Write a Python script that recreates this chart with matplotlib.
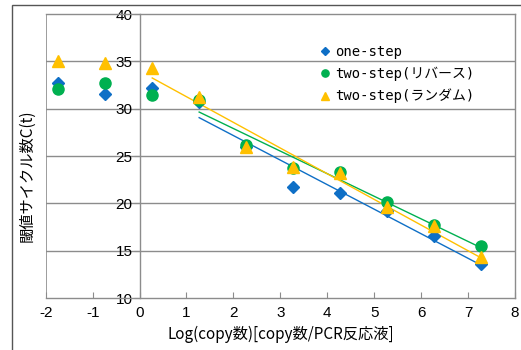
import matplotlib
matplotlib.use("Agg")
import matplotlib.pyplot as plt
from matplotlib.patches import Rectangle
import numpy as np

plt.rcParams["axes.unicode_minus"] = False

x_vals = [-1.73, -0.73, 0.27, 1.27, 2.27, 3.27, 4.27, 5.27, 6.27, 7.27]
one_step = [32.7, 31.5, 32.15, 30.7, 26.0, 21.7, 21.1, 19.2, 16.6, 13.6]
two_step_rev = [32.1, 32.7, 31.4, 30.9, 26.2, 23.7, 23.3, 20.1, 17.7, 15.5]
two_step_rand = [35.0, 34.85, 34.3, 31.2, 26.0, 23.8, 23.2, 19.6, 17.6, 14.3]
labels = ["one-step", "two-step(リバース)", "two-step(ランダム)"]
fit_start = [3, 3, 2]  # index where each trend line begins
colors = ["#0E6FC6", "#00B050", "#FFC000"]
markers = ["D", "o", "^"]
msizes = [6, 8, 9]

xticks = [-2, -1, 0, 1, 2, 3, 4, 5, 6, 7, 8]
yticks = [10, 15, 20, 25, 30, 35, 40]

jp = ["Noto Sans CJK JP", "DejaVu Sans"]
num_font = ["Liberation Sans", "DejaVu Sans"]

fig = plt.figure(figsize=(5.21, 3.5), dpi=100)
fig.patches.append(Rectangle((12 / 521, -0.1), 1.2, 1.1 - 5 / 350,
                             transform=fig.transFigure, fill=False,
                             edgecolor="#555555", lw=1.0, zorder=0))
ax = fig.add_axes([45.7 / 521, 52 / 350, (515 - 45.7) / 521, (298 - 14) / 350])

grey = "#8c8c8c"
series = [one_step, two_step_rev, two_step_rand]
x = np.array(x_vals)
for ys, lab, c, m, ms in zip(series, labels, colors, markers, msizes):
    ys = np.array(ys)
    ax.plot(x, ys, linestyle="none", marker=m, markersize=ms, color=c,
            markeredgecolor=c, label=lab, zorder=4)
for ys, c, fs in zip(series, colors, fit_start):
    ys = np.array(ys)
    k, b = np.polyfit(x[fs:], ys[fs:], 1)
    xx = np.array([x[fs], x[-1]])
    ax.plot(xx, k * xx + b, color=c, lw=1.0, zorder=3)

ax.set_xlim(-2, 8)
ax.set_ylim(10, 40)
ax.set_xticks(xticks)
ax.set_yticks(yticks)
for yv in yticks[1:-1]:
    ax.axhline(yv, color=grey, lw=1.0, zorder=1)
ax.axvline(-2, color=grey, lw=1.2, zorder=1)

for s in ["top", "right", "bottom", "left"]:
    ax.spines[s].set_color(grey)
    ax.spines[s].set_linewidth(1.0)
ax.spines["left"].set_position(("data", 0))
ax.tick_params(axis="x", direction="in", length=4, color=grey, pad=6, labelsize=11)
ax.tick_params(axis="y", direction="out", length=4, color=grey, pad=1, labelsize=11)
for t in ax.get_xticklabels() + ax.get_yticklabels():
    t.set_family(num_font)

ax.set_xlabel("Log(copy数)[copy数/PCR反応液]", family=jp, fontsize=11, labelpad=4)
fig.text(27 / 521, 1 - 176 / 350, "閾値サイクル数C(t)", family=jp, fontsize=11,
         rotation=90, ha="center", va="center")

leg = ax.legend(loc="upper left", bbox_to_anchor=(0.56, 0.935), frameon=False,
                markerscale=0.65, handlelength=0.6, handletextpad=0.4,
                labelspacing=0.55, prop={"family": ["DejaVu Sans Mono", "Noto Sans CJK JP"], "size": 10})

fig.savefig("out.png", dpi=100)
